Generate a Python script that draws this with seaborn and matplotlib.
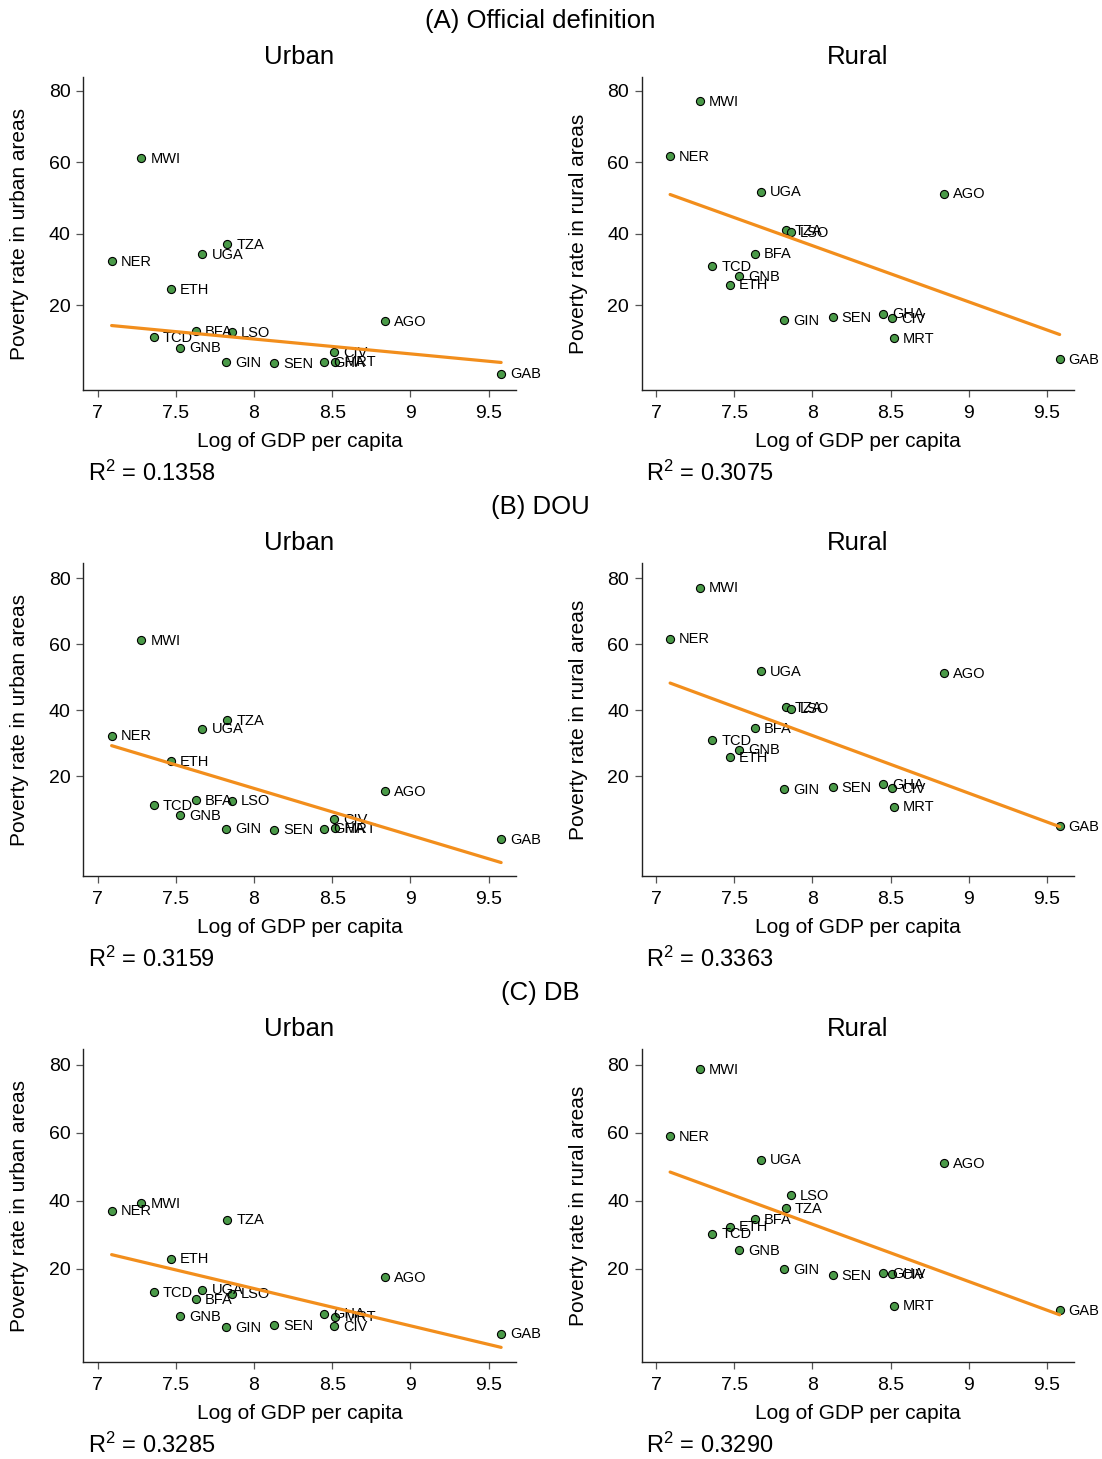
import matplotlib
matplotlib.use("Agg")
import matplotlib.pyplot as plt
import seaborn as sns
import pandas as pd
import numpy as np

# Countries and log GDP per capita (same for every panel)
countries = ['NER', 'MWI', 'TCD', 'ETH', 'GNB', 'BFA', 'UGA', 'GIN',
             'TZA', 'LSO', 'SEN', 'GHA', 'CIV', 'MRT', 'AGO', 'GAB']
log_gdp = [7.09, 7.28, 7.36, 7.47, 7.53, 7.63, 7.67, 7.82,
           7.83, 7.86, 8.13, 8.45, 8.51, 8.52, 8.84, 9.58]

# Poverty rates (%)
urban_official = [32.3, 61.2, 11.2, 24.5, 8.2, 12.8, 34.4, 4.1,
                  37.1, 12.6, 3.8, 4.1, 7.0, 4.3, 15.6, 1.0]
rural_official = [61.7, 77.1, 31.0, 25.8, 28.1, 34.5, 51.8, 16.0,
                  41.0, 40.5, 16.8, 17.7, 16.4, 10.8, 51.2, 5.0]
urban_dou = [32.3, 61.2, 11.2, 24.5, 8.2, 12.8, 34.4, 4.1,
             37.1, 12.6, 3.8, 4.1, 7.0, 4.3, 15.6, 1.0]
rural_dou = [61.7, 77.1, 31.0, 25.8, 28.1, 34.5, 51.8, 16.0,
             41.0, 40.5, 16.8, 17.7, 16.4, 10.8, 51.2, 5.0]
urban_db = [37.1, 39.4, 13.1, 23.0, 6.1, 11.0, 13.9, 2.85,
            34.5, 12.7, 3.5, 6.8, 3.1, 5.9, 17.6, 0.9]
rural_db = [59.1, 78.8, 30.4, 32.4, 25.5, 34.6, 52.1, 20.0,
            37.8, 41.6, 18.2, 18.8, 18.4, 9.2, 51.2, 7.85]

# Fitted lines (intercept, slope) and reported R2
fit_intercept = [43.75, 162.3, 130.1, 172.1, 101.9, 168.1]
fit_slope = [-4.14, -15.70, -14.22, -17.47, -10.96, -16.87]
r2_labels = ['0.1358', '0.3075', '0.3159', '0.3363', '0.3285', '0.3290']

section_titles = ['(A) Official definition', '(B) DOU', '(C) DB']
area_titles = ['Urban', 'Rural']
y_labels = ['Poverty rate in urban areas', 'Poverty rate in rural areas']
x_ticks = [7, 7.5, 8, 8.5, 9, 9.5]
x_tick_labels = ['7', '7.5', '8', '8.5', '9', '9.5']
y_ticks = [20, 40, 60, 80]
y_tick_labels = ['20', '40', '60', '80']

series = [urban_official, rural_official, urban_dou, rural_dou, urban_db, rural_db]

sns.set_style('white')
plt.rcParams['font.family'] = ['Liberation Sans', 'DejaVu Sans']
plt.rcParams['mathtext.default'] = 'regular'
plt.rcParams['text.color'] = 'black'
plt.rcParams['axes.labelcolor'] = 'black'
plt.rcParams['xtick.color'] = 'black'
plt.rcParams['ytick.color'] = 'black'

W, H = 1102, 1459
fig = plt.figure(figsize=(W / 100, H / 100), dpi=100)

green = '#4a9a48'
orange = '#f28e1c'
row_top = [77, 563, 1049]
col_left = [83, 641.5]
ax_w, ax_h = 433, 313
row_ylim = [(-3.6, 83.8), (-10.2, 84.6), (-7.4, 84.7)]

for r in range(3):
    fig.text(540 / W, 1 - (row_top[r] - 56) / H, section_titles[r],
             ha='center', va='center', fontsize=18.5)
    for c in range(2):
        i = r * 2 + c
        left = col_left[c]
        top = row_top[r]
        ax = fig.add_axes([left / W, 1 - (top + ax_h) / H, ax_w / W, ax_h / H])
        df = pd.DataFrame({'gdp': log_gdp, 'pov': series[i], 'iso': countries})

        sns.scatterplot(data=df, x='gdp', y='pov', ax=ax, s=34, color=green,
                        edgecolor='black', linewidth=0.8, zorder=3)
        for _, row in df.iterrows():
            ax.annotate(row['iso'], (row['gdp'], row['pov']), xytext=(6.5, -0.5),
                        textcoords='offset points', ha='left', va='center',
                        fontsize=10.5, zorder=4)

        xs = np.array([min(log_gdp), max(log_gdp)])
        fit = pd.DataFrame({'gdp': xs, 'pov': fit_intercept[i] + fit_slope[i] * xs})
        sns.lineplot(data=fit, x='gdp', y='pov', ax=ax, color=orange,
                     linewidth=2.3, zorder=5)

        ax.set_xlim(6.907, 9.675)
        ax.set_ylim(*row_ylim[r])
        ax.set_xticks(x_ticks)
        ax.set_xticklabels(x_tick_labels)
        ax.set_yticks(y_ticks)
        ax.set_yticklabels(y_tick_labels)
        ax.tick_params(axis='both', direction='out', length=5, width=0.9,
                       color='#555555', labelsize=14, left=True, bottom=True)
        ax.tick_params(axis='x', pad=6)
        ax.tick_params(axis='y', pad=4)
        for s in ['top', 'right']:
            ax.spines[s].set_visible(False)
        for s in ['left', 'bottom']:
            ax.spines[s].set_color('#222222')
            ax.spines[s].set_linewidth(1.0)
        ax.set_xlabel('Log of GDP per capita', fontsize=15, labelpad=7)
        ax.set_ylabel(y_labels[c], fontsize=15, labelpad=14)
        ax.set_title(area_titles[c], fontsize=18.5, pad=9)

        fig.text((left + 5) / W, 1 - (top + 396) / H, 'R$^{2}$ = ' + r2_labels[i],
                 ha='left', va='center', fontsize=17)

fig.savefig('out.png', dpi=100)
